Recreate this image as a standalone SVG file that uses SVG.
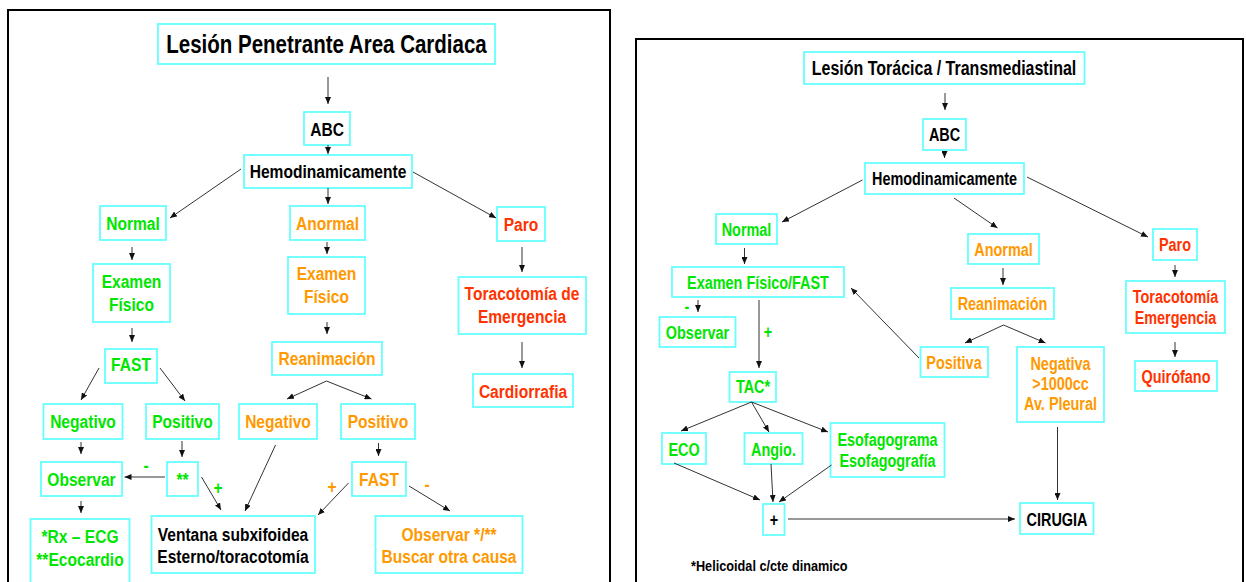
<svg xmlns="http://www.w3.org/2000/svg" width="1246" height="582" viewBox="0 0 1246 582">
<defs>
<marker id="ah" markerUnits="userSpaceOnUse" markerWidth="8" markerHeight="6" refX="7" refY="3" orient="auto">
<path d="M0,0 L7,3 L0,6 z" fill="#111"/>
</marker>
<style>
text{font-family:"Liberation Sans",Arial,sans-serif;font-weight:bold;text-anchor:middle;font-size:19px}
.bx{fill:#fff;stroke:#6ff;stroke-width:1.8}
.g{fill:#00e600}.o{fill:#ff9900}.r{fill:#ff3300}.k{fill:#000}
.s{font-size:17.6px}
#conn line{stroke:#333;stroke-width:1;marker-end:url(#ah)}
.frame{fill:none;stroke:#000;stroke-width:2}
</style>
</defs>
<rect width="1246" height="582" fill="#fff"/>
<rect class="frame" x="8" y="10" width="602" height="600"/>
<rect class="frame" x="636" y="39" width="607" height="570"/>

<g id="L-title"><rect class="bx" x="158" y="24" width="337" height="40"/><text class="k" transform="translate(326.5 53) scale(.82 1)" style="font-size:25px">Lesión Penetrante Area Cardiaca</text></g>
<g id="L-abc"><rect class="bx" x="304" y="112" width="46" height="33"/><text class="k" transform="translate(327 135.5) scale(.82 1)">ABC</text></g>
<g id="L-hemo"><rect class="bx" x="244" y="155" width="168" height="33"/><text class="k" transform="translate(328 178) scale(.82 1)">Hemodinamicamente</text></g>
<g id="L-normal"><rect class="bx" x="100" y="206" width="66" height="34"/><text class="g" transform="translate(133 230) scale(.82 1)">Normal</text></g>
<g id="L-anormal"><rect class="bx" x="290" y="206" width="75" height="34"/><text class="o" transform="translate(327.5 230) scale(.82 1)">Anormal</text></g>
<g id="L-paro"><rect class="bx" x="497" y="207" width="48" height="34"/><text class="r" transform="translate(521 231) scale(.82 1)">Paro</text></g>
<g id="L-examen-n"><rect class="bx" x="93" y="264" width="77" height="58"/><text class="g" transform="translate(131.5 288) scale(.82 1)">Examen</text><text class="g" transform="translate(131.5 311) scale(.82 1)">Físico</text></g>
<g id="L-examen-a"><rect class="bx" x="288" y="257" width="77" height="57"/><text class="o" transform="translate(326.5 280) scale(.82 1)">Examen</text><text class="o" transform="translate(326.5 303) scale(.82 1)">Físico</text></g>
<g id="L-toraco"><rect class="bx" x="458.5" y="277" width="127.5" height="57"/><text class="r" transform="translate(522 300) scale(.82 1)">Toracotomía de</text><text class="r" transform="translate(522 323) scale(.82 1)">Emergencia</text></g>
<g id="L-fast-n"><rect class="bx" x="105" y="349" width="52" height="34"/><text class="g" transform="translate(131 371) scale(.82 1)">FAST</text></g>
<g id="L-reanim"><rect class="bx" x="272" y="342" width="110" height="33"/><text class="o" transform="translate(327 365) scale(.82 1)">Reanimación</text></g>
<g id="L-cardio"><rect class="bx" x="473" y="374" width="100" height="33"/><text class="r" transform="translate(523 397.5) scale(.82 1)">Cardiorrafia</text></g>
<g id="L-neg-n"><rect class="bx" x="43.5" y="404" width="79" height="35"/><text class="g" transform="translate(83 428) scale(.82 1)">Negativo</text></g>
<g id="L-pos-n"><rect class="bx" x="146" y="404" width="73" height="35"/><text class="g" transform="translate(182.5 428) scale(.82 1)">Positivo</text></g>
<g id="L-neg-a"><rect class="bx" x="239" y="404" width="78" height="35"/><text class="o" transform="translate(278 428) scale(.82 1)">Negativo</text></g>
<g id="L-pos-a"><rect class="bx" x="341" y="404" width="74" height="35"/><text class="o" transform="translate(378 428) scale(.82 1)">Positivo</text></g>
<g id="L-observar"><rect class="bx" x="41" y="462" width="81" height="34"/><text class="g" transform="translate(81.5 486) scale(.82 1)">Observar</text></g>
<g id="L-stars"><rect class="bx" x="167" y="462" width="31" height="34"/><text class="g" transform="translate(182.5 486) scale(.82 1)">**</text></g>
<g id="L-fast-a"><rect class="bx" x="352" y="462" width="54" height="34"/><text class="o" transform="translate(379 486) scale(.82 1)">FAST</text></g>
<g id="L-rx"><rect class="bx" x="30.5" y="519" width="99" height="80"/><text class="g" transform="translate(80 543) scale(.82 1)">*Rx – ECG</text><text class="g" transform="translate(80 566) scale(.82 1)">**Ecocardio</text></g>
<g id="L-ventana"><rect class="bx" x="151.5" y="516" width="163.5" height="57"/><text class="k" transform="translate(233 541) scale(.82 1)">Ventana subxifoidea</text><text class="k" transform="translate(233 563) scale(.82 1)">Esterno/toracotomía</text></g>
<g id="L-obs2"><rect class="bx" x="375.5" y="516" width="147" height="57"/><text class="o" transform="translate(449 541) scale(.82 1)">Observar */**</text><text class="o" transform="translate(449 563) scale(.82 1)">Buscar otra causa</text></g>

<g id="R-title"><rect class="bx" x="804" y="52" width="280.5" height="32"/><text class="k" transform="translate(944 75) scale(.82 1)" style="font-size:19.5px">Lesión Torácica / Transmediastinal</text></g>
<g id="R-abc"><rect class="bx" x="923" y="119" width="43" height="31"/><text class="k s" transform="translate(944.5 141) scale(.82 1)">ABC</text></g>
<g id="R-hemo"><rect class="bx" x="865" y="163" width="159" height="31"/><text class="k s" transform="translate(944.5 184.5) scale(.82 1)">Hemodinamicamente</text></g>
<g id="R-normal"><rect class="bx" x="716" y="214" width="61" height="30"/><text class="g s" transform="translate(746.5 235.5) scale(.82 1)">Normal</text></g>
<g id="R-examen"><rect class="bx" x="672" y="267" width="172" height="30"/><text class="g s" transform="translate(758 288.5) scale(.82 1)">Examen Físico/FAST</text></g>
<g id="R-observar"><rect class="bx" x="659.5" y="317" width="76" height="30"/><text class="g s" transform="translate(697.5 338.5) scale(.82 1)">Observar</text></g>
<g id="R-tac"><rect class="bx" x="729.5" y="372" width="46.5" height="30"/><text class="g s" transform="translate(753 393) scale(.82 1)">TAC*</text></g>
<g id="R-anormal"><rect class="bx" x="968" y="234" width="71" height="30"/><text class="o s" transform="translate(1003.5 255.5) scale(.82 1)">Anormal</text></g>
<g id="R-reanim"><rect class="bx" x="951" y="288" width="103" height="31"/><text class="o s" transform="translate(1002.5 309.5) scale(.82 1)">Reanimación</text></g>
<g id="R-positiva"><rect class="bx" x="920.5" y="347" width="67.5" height="30"/><text class="o s" transform="translate(954 368.5) scale(.82 1)">Positiva</text></g>
<g id="R-negativa"><rect class="bx" x="1017" y="347" width="87" height="75"/><text class="o s" transform="translate(1060.5 369.5) scale(.82 1)">Negativa</text><text class="o s" transform="translate(1060.5 390) scale(.82 1)">&gt;1000cc</text><text class="o s" transform="translate(1060.5 410) scale(.82 1)">Av. Pleural</text></g>
<g id="R-paro"><rect class="bx" x="1153" y="229" width="44" height="31"/><text class="r s" transform="translate(1175 251) scale(.82 1)">Paro</text></g>
<g id="R-toraco"><rect class="bx" x="1126" y="281" width="99" height="52"/><text class="r s" transform="translate(1175.5 302.5) scale(.82 1)">Toracotomía</text><text class="r s" transform="translate(1175.5 323.5) scale(.82 1)">Emergencia</text></g>
<g id="R-quiro"><rect class="bx" x="1135" y="361" width="82" height="30"/><text class="r s" transform="translate(1176 382.5) scale(.82 1)">Quirófano</text></g>
<g id="R-eco"><rect class="bx" x="662" y="433" width="44" height="31"/><text class="g s" transform="translate(684 455.5) scale(.82 1)">ECO</text></g>
<g id="R-angio"><rect class="bx" x="744.5" y="433" width="58" height="31"/><text class="g s" transform="translate(773.5 455.5) scale(.82 1)">Angio.</text></g>
<g id="R-esof"><rect class="bx" x="830.5" y="423" width="114" height="54"/><text class="g s" transform="translate(887.5 445.5) scale(.82 1)">Esofagograma</text><text class="g s" transform="translate(887.5 466.5) scale(.82 1)">Esofagografía</text></g>
<g id="R-plus"><rect class="bx" x="763" y="504" width="21.5" height="31"/><text class="k s" transform="translate(774 525.5) scale(.82 1)">+</text></g>
<g id="R-cirugia"><rect class="bx" x="1020" y="503" width="73.5" height="31"/><text class="k s" transform="translate(1057 525.5) scale(.82 1)">CIRUGIA</text></g>
<text id="R-note" class="k" transform="translate(691 571) scale(.82 1)" style="font-size:15.5px;text-anchor:start">*Helicoidal c/cte dinamico</text>

<g id="labels">
<text class="g" transform="translate(146 472) scale(.82 1)">-</text>
<text class="g" transform="translate(218 494) scale(.82 1)">+</text>
<text class="o" transform="translate(332 493) scale(.82 1)">+</text>
<text class="o" transform="translate(427 491) scale(.82 1)">-</text>
<text class="g s" transform="translate(687 313) scale(.82 1)">-</text>
<text class="g s" transform="translate(768 338) scale(.82 1)">+</text>
</g>

<g id="conn">
<line x1="328" y1="77" x2="328" y2="104"/>
<line x1="328" y1="145" x2="328" y2="154"/>
<line x1="241" y1="169" x2="170" y2="218"/>
<line x1="328" y1="188" x2="328" y2="204"/>
<line x1="413" y1="172" x2="496" y2="218"/>
<line x1="132" y1="247" x2="132" y2="260"/>
<line x1="132" y1="328" x2="132" y2="342"/>
<line x1="327" y1="242" x2="327" y2="254"/>
<line x1="327" y1="322" x2="327" y2="334"/>
<line x1="522" y1="247" x2="522" y2="272"/>
<line x1="522" y1="342" x2="522" y2="368"/>
<line x1="99" y1="368" x2="81" y2="400"/>
<line x1="160" y1="368" x2="185" y2="401"/>
<line x1="326.5" y1="381" x2="287" y2="399"/>
<line x1="326.5" y1="381" x2="371.5" y2="399"/>
<line x1="81" y1="442" x2="81" y2="454"/>
<line x1="182" y1="441" x2="182" y2="457"/>
<line x1="165" y1="477" x2="124.5" y2="477"/>
<line x1="201.5" y1="477" x2="221" y2="510"/>
<line x1="81" y1="501" x2="81" y2="513"/>
<line x1="275.5" y1="445" x2="245" y2="511"/>
<line x1="378.5" y1="443" x2="378.5" y2="456"/>
<line x1="348.5" y1="483" x2="318" y2="515"/>
<line x1="409" y1="486" x2="450" y2="511"/>

<line x1="945" y1="93" x2="945" y2="110"/>
<line x1="944.5" y1="151" x2="944.5" y2="158"/>
<line x1="862.5" y1="180" x2="782" y2="222"/>
<line x1="954" y1="198" x2="997.5" y2="228"/>
<line x1="1027" y1="177" x2="1148" y2="237"/>
<line x1="744.5" y1="248" x2="744.5" y2="264"/>
<line x1="698" y1="300" x2="698" y2="312"/>
<line x1="759" y1="300" x2="759" y2="368"/>
<line x1="1003" y1="268" x2="1003" y2="285"/>
<line x1="1003.5" y1="325" x2="965" y2="343"/>
<line x1="1003.5" y1="325" x2="1045.5" y2="343"/>
<line x1="919" y1="358" x2="851" y2="288"/>
<line x1="1175" y1="265" x2="1175" y2="277"/>
<line x1="1175" y1="342" x2="1175" y2="357"/>
<line x1="751.5" y1="402" x2="681" y2="431"/>
<line x1="751.5" y1="402" x2="769" y2="432"/>
<line x1="751.5" y1="402" x2="828" y2="432"/>
<line x1="674" y1="463" x2="760" y2="500"/>
<line x1="771" y1="464" x2="773" y2="502"/>
<line x1="831.5" y1="465" x2="779" y2="502"/>
<line x1="788" y1="519" x2="1015" y2="519"/>
<line x1="1057.5" y1="427" x2="1057.5" y2="500"/>
</g>
</svg>
